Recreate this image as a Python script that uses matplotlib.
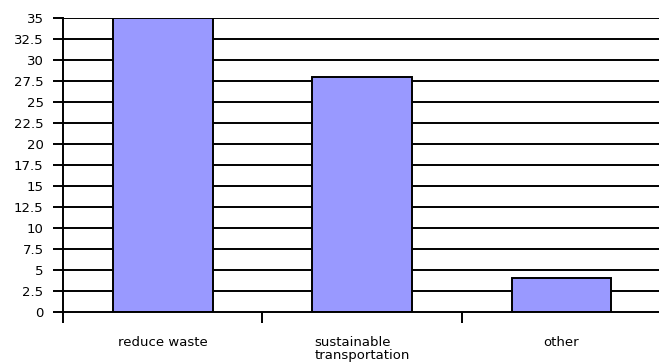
import matplotlib
matplotlib.use("Agg")
import matplotlib.pyplot as plt
import numpy as np

plt.rcParams["font.family"] = ["DejaVu Sans"]

categories = ["reduce waste", "sustainable\ntransportation", "other"]
values = [35, 28, 4]
y_ticks = np.arange(0, 35.1, 2.5)
y_tick_labels = ["0", "2.5", "5", "7.5", "10", "12.5", "15", "17.5", "20",
                 "22.5", "25", "27.5", "30", "32.5", "35"]

fig = plt.figure(figsize=(6.59, 3.63), dpi=100)
ax = fig.add_axes([63 / 659, 51 / 363, 598 / 659, 294 / 363])

x = np.arange(len(categories))
for yv in y_ticks[1:]:
    ax.axhline(yv, color="black", lw=1.4, zorder=0.5)
ax.bar(x, values, width=0.5, color="#9999FF", edgecolor="black", linewidth=1.4,
       zorder=2)

ax.set_xlim(-0.5, len(categories) - 0.5)
ax.set_ylim(0, 35)

ax.set_yticks(y_ticks)
ax.set_yticklabels(y_tick_labels, fontsize=9.5)
ax.tick_params(axis="y", length=7, width=1.4, pad=7)

# boundary ticks between categories, labels centered on the bars
ax.set_xticks(np.arange(-0.5, len(categories)), minor=False)
ax.set_xticklabels([])
ax.set_xticks(x, minor=True)
ax.set_xticklabels(categories, minor=True, fontsize=9.5, multialignment="left",
                   linespacing=1.05)
ax.tick_params(axis="x", which="major", length=8, width=1.4)
ax.tick_params(axis="x", which="minor", length=0, pad=17)

for side in ["top", "right"]:
    ax.spines[side].set_visible(False)
for side in ["left", "bottom"]:
    ax.spines[side].set_linewidth(1.4)

fig.savefig("out.png", dpi=100)
